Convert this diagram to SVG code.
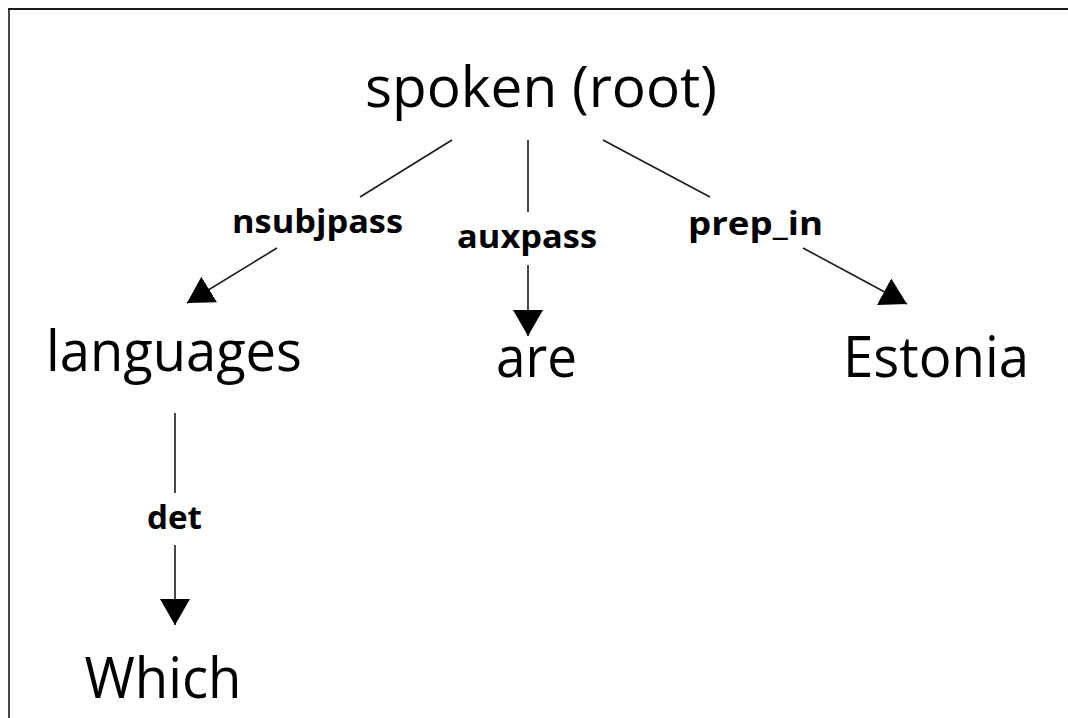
<svg xmlns="http://www.w3.org/2000/svg" width="1068" height="718" viewBox="0 0 1068 718">
<style>
.word{font-family:"Open Sans","Noto Sans","Liberation Sans",sans-serif;font-size:56px;fill:#000;text-anchor:middle}
.lbl{font-family:"Open Sans","Noto Sans","Liberation Sans",sans-serif;font-size:33px;font-weight:bold;fill:#000;text-anchor:middle}
.edge{stroke:#1a1a1a;stroke-width:1.6;fill:none}
.frame{stroke:#1a1a1a;fill:none}
</style>
<defs>
<marker id="arr" markerUnits="userSpaceOnUse" markerWidth="28" markerHeight="32" refX="26" refY="15" orient="auto" viewBox="0 0 28 32">
<path d="M0,0 L26,15 L0,30 Z" fill="#000"/>
</marker>
</defs>
<rect width="1068" height="718" fill="#fff"/>
<g id="frame">
<line class="frame" x1="1068" y1="9" x2="8" y2="9" stroke-width="2.2"/>
<line class="frame" x1="9" y1="8" x2="9" y2="718" stroke-width="1.6"/>
</g>
<g id="connectors">
<line class="edge" x1="452" y1="140" x2="360" y2="197"/>
<line class="edge" x1="277" y1="248" x2="187" y2="303" marker-end="url(#arr)"/>
<line class="edge" x1="528" y1="140" x2="528" y2="212"/>
<line class="edge" x1="528" y1="265" x2="528" y2="336" marker-end="url(#arr)"/>
<line class="edge" x1="603" y1="140" x2="710" y2="197"/>
<line class="edge" x1="803" y1="248" x2="907" y2="304" marker-end="url(#arr)"/>
<line class="edge" x1="175" y1="413" x2="175" y2="493"/>
<line class="edge" x1="175" y1="545" x2="175" y2="625" marker-end="url(#arr)"/>
<text class="lbl" x="317.5" y="233" textLength="171" lengthAdjust="spacingAndGlyphs">nsubjpass</text>
<text class="lbl" x="527" y="248" textLength="140" lengthAdjust="spacingAndGlyphs">auxpass</text>
<text class="lbl" x="755.5" y="235" textLength="135" lengthAdjust="spacingAndGlyphs">prep_in</text>
<text class="lbl" x="174.5" y="529" textLength="55" lengthAdjust="spacingAndGlyphs">det</text>
</g>
<g id="node-spoken"><text class="word" x="541" y="107" textLength="352" lengthAdjust="spacingAndGlyphs">spoken (root)</text></g>
<g id="node-languages"><text class="word" x="174" y="371" textLength="256" lengthAdjust="spacingAndGlyphs">languages</text></g>
<g id="node-are"><text class="word" x="536.5" y="377" textLength="81" lengthAdjust="spacingAndGlyphs">are</text></g>
<g id="node-estonia"><text class="word" x="936" y="377" textLength="186" lengthAdjust="spacingAndGlyphs">Estonia</text></g>
<g id="node-which"><text class="word" x="163" y="698" textLength="157" lengthAdjust="spacingAndGlyphs">Which</text></g>
</svg>
